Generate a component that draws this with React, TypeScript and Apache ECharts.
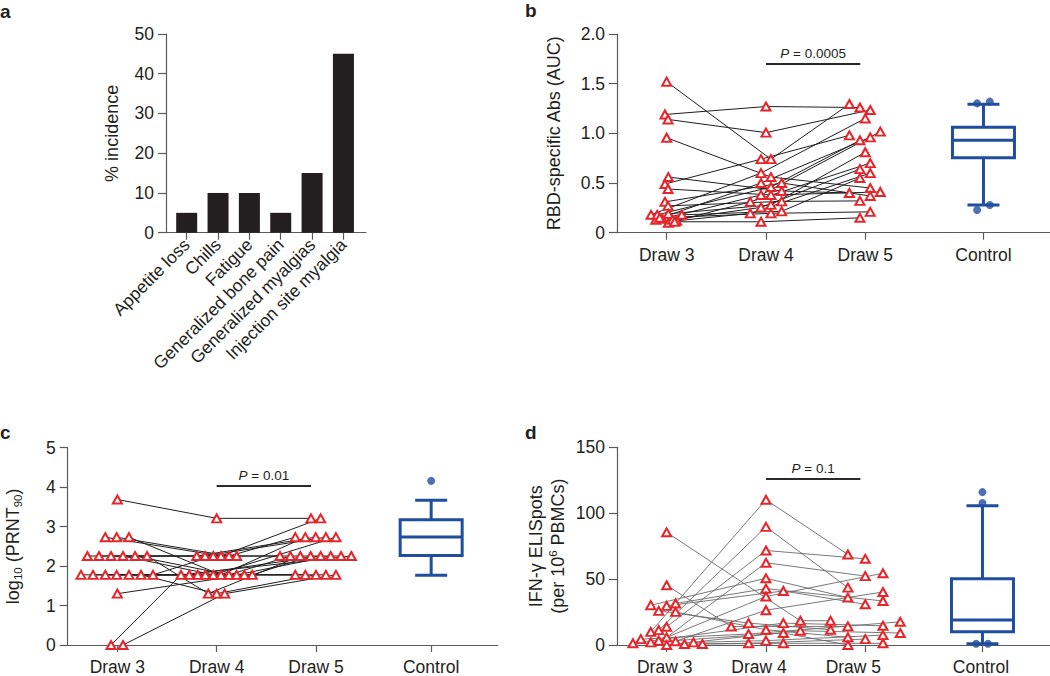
import { useEffect, useRef } from "react";
import * as echarts from "echarts";

const FONT = "'Liberation Sans', Arial, Helvetica, sans-serif";
const INK = "#231f20";
const AXIS_COLOR = "#5a5a5a";
const RED = "#e6252a";
const BLUE = "#1f4e9f";
const TICK_FS = 17.5;
const NAME_FS = 18;

// ---------- Panel a ----------
const symptoms = [
  "Appetite loss",
  "Chills",
  "Fatigue",
  "Generalized bone pain",
  "Generalized myalgias",
  "Injection site myalgia",
];
const incidence = [5, 10, 10, 5, 15, 45];

const groupLabels = ["Draw 3", "Draw 4", "Draw 5", "Control"];

// ---------- Panel b : RBD-specific Abs (AUC) ----------
const bDraw3 = [1.52, 1.19, 1.14, 0.956, 0.56, 0.49, 0.44, 0.31, 0.27, 0.18, 0.13, 0.18, 0.14, 0.19, 0.1, 0.13, 0.12, 0.18, 0.15, 0.11];
const bDraw3Jit = [0, -0.017, 0.014, 0, 0.017, -0.017, 0.014, -0.017, 0.014, -0.157, -0.11, -0.095, -0.044, 0.017, 0.017, 0.058, 0.1, 0.153, -0.07, 0.08];
const bDraw4 = [0.74, 1.27, 1.007, 0.56, 0.42, 0.74, 0.38, 0.5, 0.315, 0.6, 0.5, 0.46, 0.38, 0.28, 0.31, 0.255, 0.195, 0.215, 0.195, 0.11];
const bDraw4Jit = [0.05, 0, 0, 0.05, 0.158, -0.05, 0.05, 0.158, 0.158, -0.05, -0.05, 0.05, -0.05, 0.05, -0.158, -0.05, -0.158, 0.158, 0.05, -0.05];
const bDraw5 = [1.295, 1.26, 1.235, 0.45, 0.4, 0.98, 0.41, 0.37, 0.32, 1.15, 0.96, 0.93, 1.017, 0.81, 0.7, 0.64, 0.6, 0.55, 0.21, 0.15];
const bDraw5Jit = [-0.16, -0.054, 0.05, 0.05, -0.16, -0.16, 0.151, 0.05, -0.054, 0, 0.05, -0.054, 0.151, 0, 0.05, -0.054, 0.05, -0.054, 0.05, -0.054];
const bControlPos = 4.19;
const bControlBox = [0.279, 0.755, 0.93, 1.061, 1.292]; // low, q1, median, q3, high
const bControlDots = [1.302, 1.319, 0.228, 0.279];
const bControlDotsJit = [-0.064, 0.064, -0.064, 0.064];

// ---------- Panel c : log10(PRNT90) ----------
const cDraw3 = [3.687, 2.732, 2.732, 2.732, 2.255, 2.255, 2.255, 2.255, 2.255, 2.255, 1.778, 1.778, 1.778, 1.778, 1.778, 1.778, 1.778, 1.301, 0, 0];
const cDraw3Jit = [0, -0.121, -0.007, 0.117, -0.302, -0.185, -0.064, 0.057, 0.178, 0.299, -0.366, -0.245, -0.121, -0.007, 0.117, 0.238, 0.359, 0, -0.064, 0.057];
const cDraw4 = [3.21, 2.255, 2.255, 1.778, 2.255, 2.255, 2.255, 1.778, 1.778, 1.301, 1.778, 1.778, 1.778, 1.778, 1.778, 1.301, 2.255, 1.778, 1.778, 1.301];
const cDraw4Jit = [0, 0.044, 0.124, 0.044, -0.201, -0.117, 0.201, -0.034, 0.124, -0.084, 0.359, -0.275, -0.191, -0.114, 0.201, 0, -0.034, 0.279, -0.359, 0.081];
const cDraw5 = [3.21, 3.21, 2.732, 2.732, 2.732, 2.732, 2.255, 2.732, 2.255, 2.255, 2.255, 2.255, 1.778, 1.778, 2.255, 1.778, 2.255, 1.778, 2.255, 1.778];
const cDraw5Jit = [-0.05, 0.047, -0.208, -0.107, -0.003, 0.1, -0.362, 0.201, -0.258, -0.158, -0.054, 0.047, -0.208, -0.107, 0.148, 0, 0.252, 0.1, 0.356, 0.201];
const cControlPos = 4.16;
const cControlBox = [1.765, 2.27, 2.74, 3.177, 3.67];
const cControlDots = [4.16];
const cControlDotsJit = [0];

// ---------- Panel d : IFN-gamma ELISpots ----------
const dDraw3 = [85.5, 45.3, 10.0, 11.3, 13.8, 5.8, 30.2, 31.5, 29.7, 3.3, 2.8, 25.9, 25.1, 1.3, 4.5, 2.0, 0, 0.75, 2.0, 0.75];
const dDraw3Jit = [0, 0, -0.16, -0.08, 0, 0, -0.16, 0.09, 0, -0.08, 0.09, -0.08, 0.09, -0.34, -0.26, -0.16, 0, 0.18, 0.27, 0.36];
const dDraw4 = [18.4, 14, 110.2, 89.6, 71.7, 62.4, 50.6, 42.8, 41, 36.8, 26.4, 16.6, 11.6, 16.6, 8.3, 9.1, 10.8, 1.3, 3.3, 1.3];
const dDraw4Jit = [0.346, -0.35, 0, 0, 0, 0, 0, 0, 0.175, 0, 0, -0.175, 0, 0.175, -0.175, 0.175, 0.346, -0.175, 0, 0.175];
const dDraw5 = [18.4, 14.1, 68.7, 43.5, 65.4, 52.3, 36, 33.4, 30.9, 54.4, 40.2, 11.6, 5.8, 14.6, 17.6, 0, 9.1, 4.5, 7.5, 1.3];
const dDraw5Jit = [-0.35, -0.175, -0.175, -0.175, 0, 0, -0.175, 0.178, 0, 0.178, 0.178, -0.35, -0.175, 0.178, 0.352, -0.175, 0.352, 0, 0.178, 0.178];
const dControlPos = 4.18;
const dControlBox = [1, 10, 18.9, 50.3, 105.7];
const dControlDots = [116, 107.7, 1, 1];
const dControlDotsJit = [0, 0, -0.064, 0.055];
// in panel d the printed group names sit slightly left of their ticks
const dLabelPos = [0.98, 1.93, 2.88, 4.165];

// ---------- helpers ----------
function subjects(d3: number[], j3: number[], d4: number[], j4: number[], d5: number[], j5: number[]) {
  return d3.map((v, i) => [
    [1 + j3[i], v],
    [2 + j4[i], d4[i]],
    [3 + j5[i], d5[i]],
  ]);
}

const textBase = { color: INK, fontFamily: FONT };

function yAxis(k: number, min: number, max: number, interval: number, name: string, nameGap: number, fmt?: (v: number) => string, rich?: any) {
  return {
    type: "value",
    gridIndex: k,
    min,
    max,
    interval,
    name,
    nameLocation: "middle",
    nameGap,
    nameTextStyle: { ...textBase, fontSize: NAME_FS, rich },
    axisLine: { show: true, onZero: false, lineStyle: { color: AXIS_COLOR, width: 1.2 } },
    axisTick: { show: true, length: 8, lineStyle: { color: AXIS_COLOR, width: 1.2 } },
    axisLabel: { ...textBase, fontSize: TICK_FS, margin: 12, formatter: fmt },
    splitLine: { show: false },
  };
}

function groupXAxis(k: number, max: number, ctrl: number, labelPos?: number[]) {
  const vals = [1, 2, 3, ctrl];
  const lab = labelPos ?? vals;
  return {
    type: "value",
    gridIndex: k,
    min: 0.5,
    max,
    axisLine: { show: true, onZero: false, lineStyle: { color: AXIS_COLOR, width: 1.2 } },
    axisTick: { show: true, length: 7, customValues: vals, lineStyle: { color: AXIS_COLOR, width: 1.2 } },
    axisLabel: {
      ...textBase,
      fontSize: TICK_FS,
      margin: 13,
      customValues: lab,
      formatter: (v: number) => {
        const idx = lab.findIndex((c) => Math.abs(c - v) < 1e-6);
        return idx >= 0 ? groupLabels[idx] : "";
      },
    },
    splitLine: { show: false },
  };
}

function boxRender(params: any, api: any) {
  const x = api.value(0);
  const pLo = api.coord([x, api.value(1)]);
  const pQ1 = api.coord([x, api.value(2)]);
  const pMed = api.coord([x, api.value(3)]);
  const pQ3 = api.coord([x, api.value(4)]);
  const pHi = api.coord([x, api.value(5)]);
  const cx = pLo[0];
  const hw = 31;
  const cw = 16;
  const style = { stroke: BLUE, lineWidth: 3, fill: "none" };
  return {
    type: "group",
    children: [
      { type: "line", shape: { x1: cx, y1: pHi[1], x2: cx, y2: pQ3[1] }, style },
      { type: "line", shape: { x1: cx, y1: pQ1[1], x2: cx, y2: pLo[1] }, style },
      { type: "line", shape: { x1: cx - cw, y1: pHi[1], x2: cx + cw, y2: pHi[1] }, style },
      { type: "line", shape: { x1: cx - cw, y1: pLo[1], x2: cx + cw, y2: pLo[1] }, style },
      { type: "rect", shape: { x: cx - hw, y: pQ3[1], width: hw * 2, height: pQ1[1] - pQ3[1] }, style },
      { type: "line", shape: { x1: cx - hw, y1: pMed[1], x2: cx + hw, y2: pMed[1] }, style },
    ],
  };
}

function groupSeries(
  k: number,
  subj: number[][][],
  lineColor: string,
  lineWidth: number,
  ctrl: number,
  box: number[],
  dots: number[],
  dotsJit: number[],
  pY: number,
  pText: string
) {
  return [
    {
      type: "lines",
      coordinateSystem: "cartesian2d",
      xAxisIndex: k,
      yAxisIndex: k,
      polyline: true,
      silent: true,
      z: 2,
      lineStyle: { color: lineColor, width: lineWidth, opacity: 1 },
      data: subj.map((c) => ({ coords: c })),
    },
    {
      type: "scatter",
      xAxisIndex: k,
      yAxisIndex: k,
      z: 3,
      symbol: "triangle",
      symbolSize: [9, 8],
      itemStyle: { color: "#ffffff", borderColor: RED, borderWidth: 2, opacity: 1 },
      data: subj.flat(),
      markLine: {
        silent: true,
        symbol: ["none", "none"],
        lineStyle: { color: "#2a2a2a", width: 2, type: "solid" },
        label: {
          show: true,
          position: "insideMiddleTop",
          distance: 3,
          formatter: "{i|P} = " + pText,
          ...textBase,
          fontSize: 13.5,
          rich: { i: { ...textBase, fontSize: 13.5, fontStyle: "italic" } },
        },
        data: [[{ coord: [2, pY] }, { coord: [2.95, pY] }]],
      },
    },
    {
      type: "custom",
      xAxisIndex: k,
      yAxisIndex: k,
      z: 3,
      renderItem: boxRender,
      encode: { x: 0, y: [1, 2, 3, 4, 5] },
      data: [[ctrl, ...box]],
    },
    {
      type: "scatter",
      xAxisIndex: k,
      yAxisIndex: k,
      z: 4,
      symbol: "circle",
      symbolSize: 8,
      itemStyle: { color: BLUE },
      data: dots.map((v, i) => [ctrl + dotsJit[i], v]),
    },
  ];
}

function buildOption() {
  const bSubj = subjects(bDraw3, bDraw3Jit, bDraw4, bDraw4Jit, bDraw5, bDraw5Jit);
  const cSubj = subjects(cDraw3, cDraw3Jit, cDraw4, cDraw4Jit, cDraw5, cDraw5Jit);
  const dSubj = subjects(dDraw3, dDraw3Jit, dDraw4, dDraw4Jit, dDraw5, dDraw5Jit);
  const symptomIdx = symptoms.map((_, i) => i);

  const subRich = {
    n: { ...textBase, fontSize: NAME_FS, lineHeight: 22, verticalAlign: "middle" },
    s: { ...textBase, fontSize: 11.5, lineHeight: 12, verticalAlign: "bottom" },
    u: { ...textBase, fontSize: 11.5, lineHeight: 12, verticalAlign: "top" },
  };

  return {
    animation: false,
    backgroundColor: "#ffffff",
    textStyle: { fontFamily: FONT },
    grid: [
      { left: 166, top: 34, width: 200, height: 198.7 },
      { left: 617, top: 34, width: 433, height: 198.7 },
      { left: 67.7, top: 447.7, width: 430, height: 198.3 },
      { left: 617, top: 447.3, width: 433, height: 198.7 },
    ],
    xAxis: [
      {
        type: "value",
        gridIndex: 0,
        min: -0.66,
        max: 5.72,
        axisLine: { show: true, onZero: false, lineStyle: { color: AXIS_COLOR, width: 1.2 } },
        axisTick: { show: true, length: 7, customValues: symptomIdx, lineStyle: { color: AXIS_COLOR, width: 1.2 } },
        axisLabel: {
          ...textBase,
          fontSize: TICK_FS,
          margin: 9,
          rotate: 45,
          customValues: symptomIdx,
          formatter: (v: number) => symptoms[Math.round(v)] ?? "",
        },
        splitLine: { show: false },
      },
      groupXAxis(1, 4.86, bControlPos),
      groupXAxis(2, 4.83, cControlPos),
      groupXAxis(3, 4.86, dControlPos, dLabelPos),
    ],
    yAxis: [
      yAxis(0, 0, 50, 10, "% incidence", 45),
      yAxis(1, 0, 2, 0.5, "RBD-specific Abs (AUC)", 54, (v: number) => (v === 0 ? "0" : v.toFixed(1))),
      yAxis(2, 0, 5, 1, "{n|log}{s|10}{n| (PRNT}{s|90}{n|)}", 44, undefined, subRich),
      yAxis(3, 0, 150, 50, "{n|IFN-γ ELISpots}\n{n|(per 10}{u|6}{n| PBMCs)}", 48, undefined, subRich),
    ],
    graphic: [
      { type: "text", x: 0, y: 21, style: { text: "a", font: `bold 19px ${FONT}`, fill: INK, verticalAlign: "bottom" } },
      { type: "text", x: 525, y: 20, style: { text: "b", font: `bold 19px ${FONT}`, fill: INK, verticalAlign: "bottom" } },
      { type: "text", x: 0, y: 442, style: { text: "c", font: `bold 19px ${FONT}`, fill: INK, verticalAlign: "bottom" } },
      { type: "text", x: 525, y: 442, style: { text: "d", font: `bold 19px ${FONT}`, fill: INK, verticalAlign: "bottom" } },
    ],
    series: [
      {
        type: "bar",
        xAxisIndex: 0,
        yAxisIndex: 0,
        barWidth: 21,
        itemStyle: { color: INK },
        data: incidence.map((v, i) => [i, v]),
      },
      ...groupSeries(1, bSubj, "#1e1e1e", 1, bControlPos, bControlBox, bControlDots, bControlDotsJit, 1.7, "0.0005"),
      ...groupSeries(2, cSubj, "#1e1e1e", 1, cControlPos, cControlBox, cControlDots, cControlDotsJit, 4.03, "0.01"),
      ...groupSeries(3, dSubj, "#6a6a6a", 0.9, dControlPos, dControlBox, dControlDots, dControlDotsJit, 126.3, "0.1"),
    ],
  };
}

export default function App() {
  const ref = useRef<HTMLDivElement>(null);
  useEffect(() => {
    document.body.style.margin = "0";
    const chart = echarts.init(ref.current!, null, { renderer: "svg" });
    chart.setOption(buildOption() as any);
    return () => chart.dispose();
  }, []);
  return <div ref={ref} style={{ width: 1050, height: 676 }} />;
}
